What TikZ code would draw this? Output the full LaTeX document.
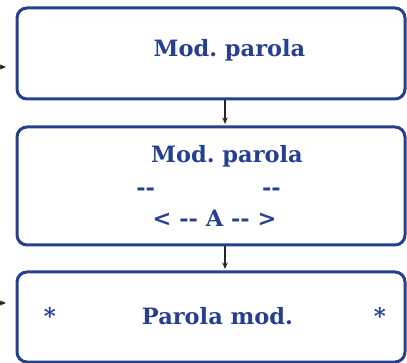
\documentclass[tikz,border=0pt]{standalone}
\usepackage{fontspec}
\setmainfont{DejaVu Serif}
\usetikzlibrary{arrows.meta}
\definecolor{boxblue}{RGB}{38,64,143}

\begin{document}
\frenchspacing
\begin{tikzpicture}[
    x=1pt,y=-1pt,
    >=Stealth,
    panel/.style={draw=boxblue,line width=3pt,rounded corners=10pt,inner sep=0pt,minimum width=388pt},
    wordtext/.style={text=boxblue,font=\fontsize{22.5}{26}\selectfont\bfseries,inner sep=0pt,anchor=base},
    starmark/.style={text=boxblue,font=\fontsize{23}{26}\selectfont\bfseries,inner sep=0pt,anchor=base},
    flow/.style={draw=black!85,line width=1.3pt,->,>={Stealth[length=6.5pt,width=5.5pt]}}
]
\useasboundingbox (0,0) rectangle (407,363);

% Rounded panels.
\node[panel,minimum height=91pt] (top) at (211,53.5) {};
\node[panel,minimum height=118pt] (middle) at (211,186) {};
\node[panel,minimum height=90pt] (bottom) at (211,317) {};

% Texts inside the panels.
\node[wordtext] (topword) at (229.5,57) {Mod. parola};
\node[wordtext] (midword) at (227,163) {Mod. parola};
\node[wordtext] (middash) at (208.5,196) {-{}-\hspace{107pt}-{}-};
\node[wordtext] (midarrow) at (214.5,227) {< -{}- A -{}- >};
\node[wordtext] (botword) at (217.5,325) {Parola mod.};
\node[starmark] (leftstar) at (50,324) {*};
\node[starmark] (rightstar) at (380,324) {*};

% Connectors between the panels.
\draw[flow,shorten >=1.5pt] ([xshift=14pt]top.south) -- ([xshift=14pt]middle.north);
\draw[flow,shorten >=1.5pt] ([xshift=14pt]middle.south) -- ([xshift=14pt]bottom.north);

% Incoming arrows at the left edge.
\coordinate (inA) at (-4,67);
\coordinate (endA) at (6,67);
\coordinate (inB) at (-4,303);
\coordinate (endB) at (6,303);
\draw[flow] (inA) -- (endA);
\draw[flow] (inB) -- (endB);
\end{tikzpicture}
\end{document}
